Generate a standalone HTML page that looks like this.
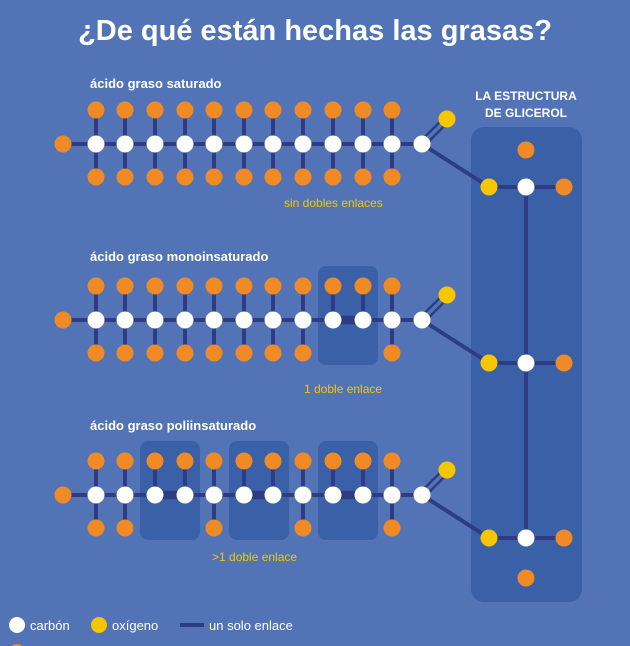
<!DOCTYPE html><html><head><meta charset="utf-8"><style>
body{margin:0;width:630px;height:646px;overflow:hidden;background:#5274b6;font-family:"Liberation Sans",sans-serif}
svg{position:absolute;left:0;top:0}
</style></head><body>
<svg id="s" width="630" height="646" xmlns="http://www.w3.org/2000/svg">
<text x="315" y="40" text-anchor="middle" fill="#fff" font-size="29" font-weight="bold" font-family="Liberation Sans, sans-serif">¿De qué están hechas las grasas?</text>
<rect x="471" y="127" width="111" height="475" rx="13" fill="#3a60a8"/>
<text x="526" y="100" text-anchor="middle" fill="#fff" font-size="12" font-weight="bold">LA ESTRUCTURA</text>
<text x="526" y="117" text-anchor="middle" fill="#fff" font-size="12" font-weight="bold">DE GLICEROL</text>
<text x="90" y="88" fill="#fff" font-size="13" font-weight="bold">ácido graso saturado</text>
<text x="90" y="261" fill="#fff" font-size="13" font-weight="bold">ácido graso monoinsaturado</text>
<text x="90" y="430" fill="#fff" font-size="13" font-weight="bold">ácido graso poliinsaturado</text>
<text x="284" y="207" fill="#f7c600" font-size="12">sin dobles enlaces</text>
<text x="304" y="393" fill="#f7c600" font-size="12">1 doble enlace</text>
<text x="212" y="561" fill="#f7c600" font-size="12">&gt;1 doble enlace</text>
<g id="g"></g>
<circle cx="17" cy="625" r="8" fill="#fff"/><text x="30" y="630" fill="#fff" font-size="13">carbón</text>
<circle cx="99" cy="625" r="8" fill="#f7c600"/><text x="112" y="630" fill="#fff" font-size="13">oxígeno</text>
<rect x="180" y="623" width="24" height="4" fill="#2e3a80"/><text x="209" y="630" fill="#fff" font-size="13">un solo enlace</text>
<circle cx="17" cy="652" r="8" fill="#f08a24"/>
</svg>
<script>
var g=document.getElementById('g'),h='';
var B='#2f3b82',O='#f08a24',Y='#f7c600',W='#fff';
function L(a,b,c,d,w){h+='<line x1="'+a+'" y1="'+b+'" x2="'+c+'" y2="'+d+'" stroke="'+B+'" stroke-width="'+(w||4)+'"/>';}
function C(x,y,c){h+='<circle cx="'+x+'" cy="'+y+'" r="8.5" fill="'+c+'"/>';}
function D(a,b,c,d){var dx=c-a,dy=d-b,l=Math.hypot(dx,dy),nx=-dy/l*3,ny=dx/l*3;L(a+nx,b+ny,c+nx,d+ny,2.5);L(a-nx,b-ny,c-nx,d-ny,2.5);}
var xs=[96,125,155,185,214,244,273,303,333,363,392,422];
var rows=[{y:144,db:[],gy:187},{y:320,db:[8],gy:363},{y:495,db:[2,5,8],gy:538}];
rows.forEach(function(r){
 r.db.forEach(function(i){h+='<rect x="'+(xs[i]-15)+'" y="'+(r.y-54)+'" width="60" height="99" rx="8" fill="#3a60a8"/>';});
});
// glycerol
L(526,187,526,538);
[187,363,538].forEach(function(y){L(489,y,564,y);});
rows.forEach(function(r){
 var y=r.y;
 L(63,y,422,y);
 L(422,y,489,r.gy);
 for(var i=0;i<11;i++){
  L(xs[i],y-34,xs[i],y);
  var nob=r.db.indexOf(i)>=0||r.db.indexOf(i-1)>=0;
  if(!nob)L(xs[i],y,xs[i],y+33);
 }
 r.db.forEach(function(i){D(xs[i],y,xs[i+1],y);});
 D(422,y,447,y-25);
 C(63,y,O);
 for(var i=0;i<11;i++){
  C(xs[i],y-34,O);
  var nob=r.db.indexOf(i)>=0||r.db.indexOf(i-1)>=0;
  if(!nob)C(xs[i],y+33,O);
 }
 xs.forEach(function(x){C(x,y,W);});
 C(447,y-25,Y);
});
C(526,150,O);C(526,578,O);
[187,363,538].forEach(function(y){C(489,y,Y);C(526,y,W);C(564,y,O);});
g.innerHTML=h;
</script>
</body></html>
